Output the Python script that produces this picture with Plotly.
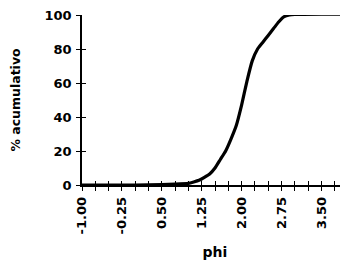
import plotly.graph_objects as go

phi = [-1.0, -0.5, 0.0, 0.5, 0.75, 1.0, 1.1, 1.2, 1.3, 1.4, 1.5, 1.6, 1.7, 1.8, 1.9,
       2.0, 2.1, 2.2, 2.3, 2.4, 2.5, 2.6, 2.7, 2.8, 2.9, 3.0, 3.5, 4.0]
acum = [0, 0, 0, 0.2, 0.5, 1.0, 1.8, 2.8, 4.5, 6.5, 10, 15, 20, 27, 35,
        47, 61, 73, 80, 84, 88, 92, 96, 99, 100, 100.3, 100.5, 100.5]

x_tick_vals = [-1.0 + 0.25 * i for i in range(21)]
x_tick_text = ["-1.00", "", "", "-0.25", "", "", "0.50", "", "", "1.25", "", "",
               "2.00", "", "", "2.75", "", "", "3.50", "", ""]
y_tick_vals = [0, 20, 40, 60, 80, 100]

font = dict(family="DejaVu Sans", size=13, color="black")

fig = go.Figure()
fig.add_trace(go.Scatter(x=phi, y=acum, mode="lines", cliponaxis=False,
                         line=dict(color="black", width=3.2, shape="spline", smoothing=0.5),
                         showlegend=False, hoverinfo="skip"))
fig.add_trace(go.Scatter(x=[phi[0]], y=[acum[0]], xaxis="x2", yaxis="y2", mode="markers",
                         marker=dict(opacity=0), showlegend=False, hoverinfo="skip"))

common_x = dict(range=[-1.0, 4.0], tickmode="array", tickvals=x_tick_vals, automargin=False,
                showgrid=False, zeroline=False, ticklen=4, tickwidth=1.2, tickcolor="black")
common_y = dict(range=[0, 100], tickmode="array", tickvals=y_tick_vals, automargin=False,
                showgrid=False, zeroline=False, ticklen=4, tickwidth=1.2, tickcolor="black")

fig.update_layout(
    width=340, height=252,
    margin=dict(l=74, r=0, t=7, b=75),
    paper_bgcolor="white", plot_bgcolor="white",
    font=font,
    xaxis=dict(**common_x, ticktext=x_tick_text, tickangle=-90, ticks="outside",
               showline=True, linecolor="black", linewidth=1.5, ticklabelstandoff=1,
               ticklabeloverflow="allow",
               tickfont=dict(family="DejaVu Sans", size=13, color="black", weight="bold"),
               title=dict(text="<b>phi</b>", font=dict(size=14), standoff=14)),
    yaxis=dict(**common_y, ticks="outside", showline=True, linecolor="black", linewidth=1.5,
               ticklabelstandoff=2, ticklabeloverflow="allow",
               tickfont=dict(family="DejaVu Sans", size=13, color="black", weight="bold"),
               title=dict(text="<b>% acumulativo</b>", font=dict(size=12.5), standoff=30)),
    xaxis2=dict(**common_x, overlaying="x", anchor="y2", ticks="inside", showticklabels=False,
                showline=False, matches="x"),
    yaxis2=dict(**common_y, overlaying="y", anchor="x2", side="left", ticks="inside",
                showticklabels=False, showline=False, matches="y"),
)

fig.write_html("out.html")
